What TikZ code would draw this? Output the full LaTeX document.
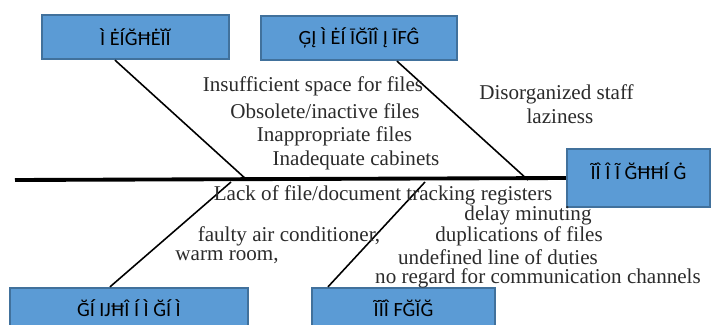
\documentclass[tikz,border=0pt]{standalone}
\usepackage{fontspec}
\setmainfont{Liberation Serif}
\newfontfamily\boxfont{Carlito}
\usepackage{tikz}
\usetikzlibrary{calc}
\usepackage{xcolor}
\definecolor{CauseBlue}{HTML}{5B9BD5}
\definecolor{CauseEdge}{HTML}{41719C}
\definecolor{InkGray}{HTML}{2B2B2B}

\begin{document}
\begin{tikzpicture}[x=0.02cm, y=-0.02cm,
    causebox/.style={draw=CauseEdge, line width=1.3pt, fill=CauseBlue, inner sep=0pt,
      font=\boxfont\fontsize{11.5}{13}\selectfont, text=black},
    rib/.style={black, line width=0.9pt},
    spine/.style={black, line width=2.2pt},
    reason/.style={font=\fontsize{12}{14}\selectfont, text=InkGray, inner sep=0pt}]
  \useasboundingbox (0,0) rectangle (718,325);
  % cause boxes
  \node[causebox, minimum width=187*0.02cm, minimum height=44*0.02cm] (mach) at (135.5,37) {Ì ĖÍĞĦĖĬĬ};
  \node[causebox, minimum width=196*0.02cm, minimum height=44*0.02cm] (meth) at (359,38) {ĢĮ Ì ĖÍ ĪĞĨÎ Į ĪFĜ};
  \node[causebox, minimum width=143*0.02cm, minimum height=58*0.02cm, text depth=14*0.02cm] (effect) at (638.5,178) {ĨÎ Î Ĩ ĞĦĦÍ Ġ};
  \begin{scope}
    \clip (0,0) rectangle (718,325);
    \node[causebox, minimum width=238*0.02cm, minimum height=40*0.02cm] (envir) at (129,308) {ĞÍ ĲĦÎ Í Ì ĞÍ Ì};
    \node[causebox, minimum width=183*0.02cm, minimum height=40*0.02cm] (people) at (403.5,308) {ĨĨÎ FĞĬĞ};
  \end{scope}
  % spine and ribs
  \coordinate (tail) at (15,180);
  \coordinate (j1) at (247,180);
  \coordinate (j2) at (528,180);
  \coordinate (j3) at (231,182);
  \coordinate (j4) at (425,182);
  \draw[spine] (tail) -- (effect.west);
  \draw[rib] ($(mach.south)+(-20.5,0)$) -- (j1);
  \draw[rib] ($(meth.south)+(38,0)$) -- (j2);
  \draw[rib] ($(envir.north)+(-19,0)$) -- (j3);
  \draw[rib] ($(people.north)+(-75.5,0)$) -- (j4);
  % reasons
  \node[reason] (insuff) at (313,86) {Insufficient space for files};
  \node[reason] (obsol) at (325,111) {Obsolete/inactive files};
  \node[reason] (inappr) at (334.5,136) {Inappropriate files};
  \node[reason] (cabin) at (356,160) {Inadequate cabinets};
  \node[reason] (staff) at (556.5,94) {Disorganized staff};
  \node[reason] (lazy) at (560,116) {laziness};
  \node[reason] (track) at (383,195) {Lack of file/document tracking registers};
  \node[reason] (delay) at (528,215) {delay minuting};
  \node[reason] (aircon) at (289,236) {faulty air conditioner,};
  \node[reason] (dupl) at (519,236) {duplications of files};
  \node[reason] (warm) at (227,257) {warm room,};
  \node[reason] (duties) at (498,257) {undefined line of duties};
  \node[reason] (regard) at (538,278) {no regard for communication channels};
\end{tikzpicture}
\end{document}
